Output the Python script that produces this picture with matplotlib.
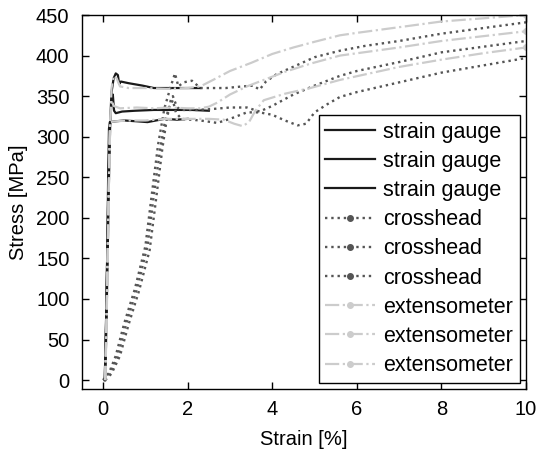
import matplotlib
matplotlib.use("Agg")
import matplotlib.pyplot as plt
from matplotlib.lines import Line2D

plt.rcParams["font.family"] = ["Liberation Sans", "DejaVu Sans"]
plt.rcParams["font.size"] = 14.5

# strain gauge (black solid)
sg1_x = [0.05, 0.08, 0.11, 0.14, 0.17, 0.20, 0.25, 0.30, 0.35, 0.38, 0.42, 0.60, 0.93, 1.20, 1.60, 2.00, 2.30]
sg1_y = [0, 70, 160, 250, 320, 355, 372, 378, 376, 365, 368, 366, 363, 360, 360, 360, 360]
sg2_x = [0.04, 0.07, 0.10, 0.13, 0.16, 0.20, 0.23, 0.26, 0.30, 0.45, 0.75, 1.20, 1.70, 2.10, 2.50]
sg2_y = [0, 70, 160, 250, 310, 345, 352, 332, 329, 331, 332, 333, 333, 333, 332]
sg3_x = [0.04, 0.07, 0.10, 0.12, 0.14, 0.16, 0.30, 0.50, 0.80, 1.05, 1.45, 1.75, 2.00]
sg3_y = [0, 70, 160, 250, 310, 318, 319, 320, 319, 318, 322, 321, 322]

# crosshead (dark grey dotted)
ch1_x = [0.00, 0.15, 0.30, 0.50, 0.75, 1.00, 1.15, 1.30, 1.45, 1.60, 1.70, 1.78, 1.90, 2.10, 2.30, 2.90,
         3.30, 3.55, 3.70, 3.85, 4.10, 4.66, 5.00, 5.60, 6.20, 7.00, 8.00, 9.00, 10.00]
ch1_y = [0, 10, 30, 70, 112, 165, 228, 290, 335, 362, 378, 362, 367, 369, 360, 360,
         362, 363, 358, 368, 377, 390, 398, 406, 412, 418, 427, 434, 441]
ch2_x = [0.05, 0.20, 0.40, 0.60, 0.85, 1.10, 1.25, 1.40, 1.50, 1.60, 1.65, 1.75, 1.90, 2.20, 2.55,
         3.00, 3.40, 3.70, 4.00, 4.50, 5.00, 5.60, 6.00, 7.00, 8.00, 9.00, 10.00]
ch2_y = [0, 8, 30, 68, 110, 160, 222, 285, 320, 345, 350, 336, 333, 333, 334,
         336, 336, 331, 338, 352, 363, 375, 381, 392, 404, 411, 418]
ch3_x = [0.03, 0.18, 0.35, 0.55, 0.80, 1.05, 1.20, 1.35, 1.45, 1.55, 1.65, 1.72, 1.85, 2.30, 2.70,
         3.00, 3.40, 3.70, 4.00, 4.30, 4.60, 4.80, 5.00, 5.30, 5.60, 6.00, 7.00, 8.00, 9.00, 10.00]
ch3_y = [0, 10, 30, 70, 112, 165, 228, 285, 315, 335, 345, 330, 322, 320, 317,
         322, 330, 330, 327, 320, 314, 316, 330, 340, 349, 355, 367, 379, 388, 397]

# extensometer (light grey dash-dot)
ex1_x = [0.05, 0.08, 0.11, 0.14, 0.17, 0.20, 0.25, 0.32, 0.40, 0.60, 1.00, 1.50, 2.00, 2.30, 2.60,
         3.00, 3.50, 4.00, 4.50, 5.00, 5.60, 6.00, 7.00, 8.00, 9.00, 10.00]
ex1_y = [0, 60, 150, 250, 320, 360, 375, 372, 362, 360, 360, 359, 360, 362, 370,
         381, 391, 402, 410, 417, 425, 428, 435, 442, 446, 450]
ex2_x = [0.05, 0.08, 0.11, 0.14, 0.17, 0.20, 0.25, 0.40, 0.80, 1.20, 1.60, 2.00, 2.30, 2.50, 2.70,
         3.00, 3.40, 3.80, 4.30, 4.90, 5.60, 6.30, 7.00, 8.00, 9.00, 10.00]
ex2_y = [0, 70, 160, 250, 320, 345, 338, 335, 336, 335, 336, 335, 335, 337, 342,
         352, 362, 370, 380, 390, 400, 405, 410, 418, 424, 430]
ex3_x = [0.05, 0.08, 0.11, 0.14, 0.16, 0.30, 0.60, 1.00, 1.50, 2.00, 2.50, 2.85, 3.10, 3.30, 3.45,
         3.60, 3.80, 4.30, 4.90, 5.60, 6.30, 7.00, 8.00, 9.00, 10.00]
ex3_y = [0, 70, 160, 250, 318, 319, 320, 320, 322, 322, 322, 321, 316, 313, 318,
         332, 345, 353, 360, 370, 378, 386, 395, 403, 410]

SG = dict(color="#1a1a1a", lw=1.6, ls="-")
CH = dict(color="#555555", lw=1.7, ls=":")
EX = dict(color="#cccccc", lw=1.6, ls="-.")

fig = plt.figure(figsize=(5.39, 4.55), dpi=100)
ax = fig.add_axes([0.152, 0.145, 0.824, 0.822])

for x, y in [(sg1_x, sg1_y), (sg2_x, sg2_y), (sg3_x, sg3_y)]:
    ax.plot(x, y, **SG)
for x, y in [(ch1_x, ch1_y), (ch2_x, ch2_y), (ch3_x, ch3_y)]:
    ax.plot(x, y, **CH)
for x, y in [(ex1_x, ex1_y), (ex2_x, ex2_y), (ex3_x, ex3_y)]:
    ax.plot(x, y, marker="o", markersize=4, markevery=[len(x) - 1], **EX)

ax.set_xlim(-0.5, 10)
ax.set_ylim(-11, 450)
ax.set_xticks([0, 2, 4, 6, 8, 10])
ax.set_yticks(range(0, 451, 50))
ax.tick_params(direction="in", top=True, right=True, length=5, width=1)
ax.tick_params(axis="y", pad=9)
ax.tick_params(axis="x", pad=8)
for s in ax.spines.values():
    s.set_linewidth(1.0)
ax.set_xlabel("Strain [%]", labelpad=8)
ax.set_ylabel("Stress [MPa]", labelpad=6)

handles = ([Line2D([], [], **SG)] * 3
           + [Line2D([], [], marker="o", markersize=4, **CH)] * 3
           + [Line2D([], [], marker="o", markersize=4, **EX)] * 3)
labels = ["strain gauge"] * 3 + ["crosshead"] * 3 + ["extensometer"] * 3
leg = ax.legend(handles, labels, loc="lower right", fontsize=15.5, handlelength=2.3,
                handletextpad=0.4, labelspacing=0.38, borderpad=0.3, borderaxespad=0.3,
                fancybox=False, framealpha=1, edgecolor="black")
leg.get_frame().set_linewidth(1.0)

fig.savefig("out.png", dpi=100)
